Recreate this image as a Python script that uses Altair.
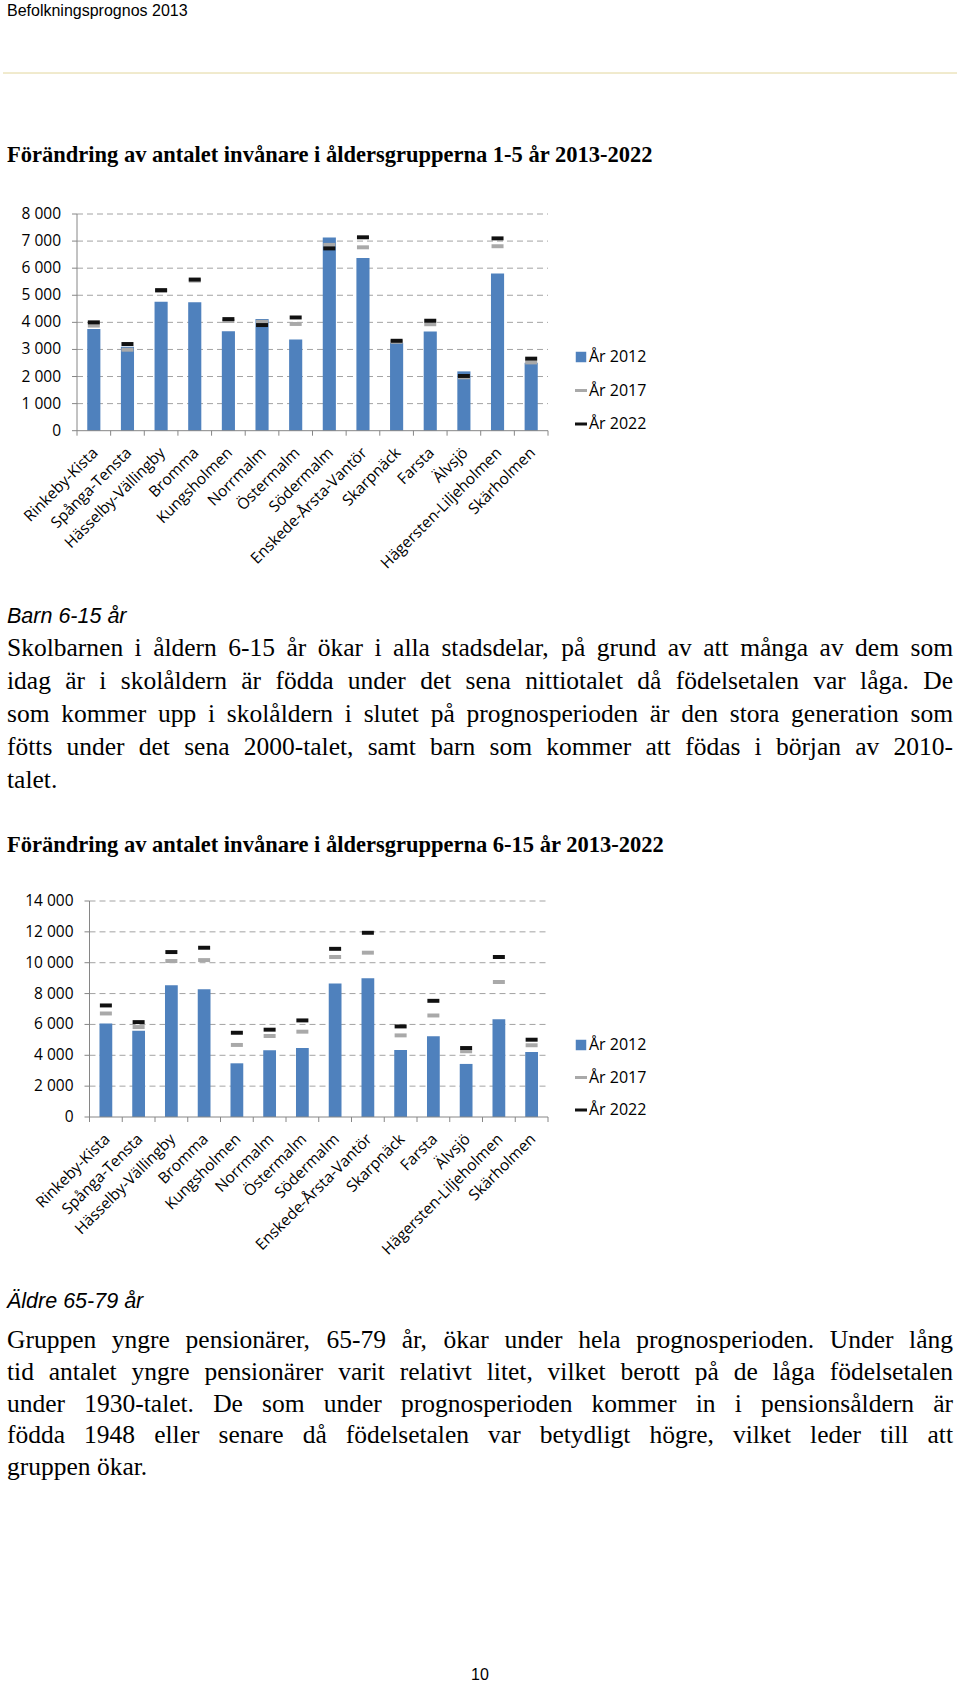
import altair as alt
import pandas as pd

# ---------------- data ----------------
districts = ["Rinkeby-Kista", "Spånga-Tensta", "Hässelby-Vällingby", "Bromma", "Kungsholmen",
             "Norrmalm", "Östermalm", "Södermalm", "Enskede-Årsta-Vantör", "Skarpnäck",
             "Farsta", "Älvsjö", "Hägersten-Liljeholmen", "Skärholmen"]

age1_5_2012 = [3750, 3100, 4760, 4740, 3670, 4120, 3370, 7130, 6380, 3250, 3660, 2190, 5800, 2510]
age1_5_2017 = [3880, 2990, 5160, 5540, 4050, 4020, 3940, 6860, 6770, 3280, 3930, 1970, 6810, 2520]
age1_5_2022 = [4000, 3200, 5190, 5580, 4120, 3900, 4180, 6730, 7140, 3320, 4060, 2020, 7100, 2660]

age6_15_2012 = [6060, 5590, 8540, 8280, 3480, 4320, 4470, 8650, 8990, 4340, 5230, 3440, 6340, 4220]
age6_15_2017 = [6710, 5830, 10110, 10170, 4670, 5250, 5530, 10370, 10650, 5290, 6580, 4260, 8750, 4650]
age6_15_2022 = [7230, 6150, 10690, 10970, 5460, 5660, 6260, 10900, 11940, 5870, 7530, 4470, 10370, 5010]

ticks_1_5 = [0, 1000, 2000, 3000, 4000, 5000, 6000, 7000, 8000]
tick_labels_1_5 = ["0", "1 000", "2 000", "3 000", "4 000", "5 000", "6 000", "7 000", "8 000"]
ticks_6_15 = [0, 2000, 4000, 6000, 8000, 10000, 12000, 14000]
tick_labels_6_15 = ["0", "2 000", "4 000", "6 000", "8 000", "10 000", "12 000", "14 000"]

legend_labels = ["År 2012", "År 2017", "År 2022"]

header_text = "Befolkningsprognos 2013"
title_1 = "Förändring av antalet invånare i åldersgrupperna 1-5 år 2013-2022"
title_2 = "Förändring av antalet invånare i åldersgrupperna 6-15 år 2013-2022"
heading_1 = "Barn 6-15 år"
para_1 = [
    "Skolbarnen i åldern 6-15 år ökar i alla stadsdelar, på grund av att många av dem som",
    "idag är i skolåldern är födda under det sena nittiotalet då födelsetalen var låga. De",
    "som kommer upp i skolåldern i slutet på prognosperioden är den stora generation som",
    "fötts under det sena 2000-talet, samt barn som kommer att födas i början av 2010-",
    "talet.",
]
heading_2 = "Äldre 65-79 år"
para_2 = [
    "Gruppen yngre pensionärer, 65-79 år, ökar under hela prognosperioden. Under lång",
    "tid antalet yngre pensionärer varit relativt litet, vilket berott på de låga födelsetalen",
    "under 1930-talet. De som under prognosperioden kommer in i pensionsåldern är",
    "födda 1948 eller senare då födelsetalen var betydligt högre, vilket leder till att",
    "gruppen ökar.",
]
page_number = "10"

# ---------------- styles ----------------
BLUE = "#4f81bd"
GREY17 = "#a9a9a9"
BLACK22 = "#111111"
AXIS = "#868686"
GRID = "#a3a3a3"
CHART_FONT = "Open Sans"
SERIF = "Liberation Serif"
SANS = "Liberation Sans"
DASH_PATH = "M-1,-0.33H1V0.33H-1Z"
LEG_DASH = "M-1,-0.25H1V0.25H-1Z"

W, H = 960, 1685


def panel(v12, v17, v22, tick_vals, tick_labels, x0, x1, ytop, ybot, leg_top, leg_bot):
    n = len(districts)
    ymax = tick_vals[-1]
    band = alt.Scale(domain=districts, range=[x0, x1], paddingInner=0.61, paddingOuter=0.305)
    ysc = alt.Scale(domain=[0, ymax], range=[ybot, ytop], nice=False, zero=True)
    X = alt.X("district:N", sort=districts, scale=band, axis=None)

    def Y(f):
        return alt.Y(f, scale=ysc, axis=None)

    df = pd.DataFrame({"district": districts, "y2012": v12, "y2017": v17, "y2022": v22})
    tdf = pd.DataFrame({"v": tick_vals, "label": tick_labels})
    layers = []
    # gridlines
    layers.append(alt.Chart(tdf).transform_filter("datum.v > 0").mark_rule(
        color=GRID, strokeDash=[6, 4], strokeWidth=1).encode(
        y=Y("v:Q"), x=alt.value(x0), x2=alt.value(x1)))
    # y axis line
    adf = pd.DataFrame({"lo": [0], "hi": [ymax]})
    layers.append(alt.Chart(adf).mark_rule(color=AXIS, strokeWidth=1).encode(
        y=Y("hi:Q"), y2="lo:Q", x=alt.value(x0)))
    # y ticks
    layers.append(alt.Chart(tdf).mark_rule(color=AXIS, strokeWidth=1).encode(
        y=Y("v:Q"), x=alt.value(x0 - 5), x2=alt.value(x0)))
    # y labels
    layers.append(alt.Chart(tdf).mark_text(
        align="right", baseline="middle", font=CHART_FONT, fontSize=15.5, color="#000000").encode(
        y=Y("v:Q"), x=alt.value(x0 - 16), text="label:N"))
    # bars
    layers.append(alt.Chart(df).mark_bar(color=BLUE).encode(x=X, y=Y("y2012:Q")))
    # x axis line
    layers.append(alt.Chart(tdf).transform_filter("datum.v == 0").mark_rule(
        color=AXIS, strokeWidth=1).encode(y=Y("v:Q"), x=alt.value(x0), x2=alt.value(x1)))
    # x ticks at band boundaries
    kdf = pd.DataFrame({"k": list(range(n + 1))})
    ksc = alt.Scale(domain=[0, n], range=[x0, x1])
    layers.append(alt.Chart(kdf).mark_rule(color=AXIS, strokeWidth=1).encode(
        x=alt.X("k:Q", scale=ksc, axis=None), y=alt.value(ybot), y2=alt.value(ybot + 5)))
    # markers
    layers.append(alt.Chart(df).mark_point(shape=DASH_PATH, filled=True, size=144, opacity=1,
                                           color=GREY17).encode(x=X, y=Y("y2017:Q")))
    layers.append(alt.Chart(df).mark_point(shape=DASH_PATH, filled=True, size=144, opacity=1,
                                           color=BLACK22).encode(x=X, y=Y("y2022:Q")))
    # category labels
    layers.append(alt.Chart(df).mark_text(
        align="right", baseline="middle", angle=315, font=CHART_FONT, fontSize=15.5,
        color="#000000", dx=2).encode(x=X, y=alt.value(ybot + 21), text="district:N"))
    # legend
    ldf = pd.DataFrame({"label": legend_labels})
    lsc = alt.Scale(domain=legend_labels, range=[leg_top, leg_bot], type="point", padding=0)
    LY = alt.Y("label:N", scale=lsc, axis=None)
    layers.append(alt.Chart(ldf).transform_filter(alt.datum.label == legend_labels[0]).mark_square(
        size=110, color=BLUE, opacity=1).encode(x=alt.value(581), y=LY))
    layers.append(alt.Chart(ldf).transform_filter(alt.datum.label == legend_labels[1]).mark_point(
        shape=LEG_DASH, filled=True, size=144, opacity=1, color=GREY17).encode(x=alt.value(581), y=LY))
    layers.append(alt.Chart(ldf).transform_filter(alt.datum.label == legend_labels[2]).mark_point(
        shape=LEG_DASH, filled=True, size=144, opacity=1, color=BLACK22).encode(x=alt.value(581), y=LY))
    layers.append(alt.Chart(ldf).mark_text(
        align="left", baseline="middle", font=CHART_FONT, fontSize=16, color="#000000").encode(
        x=alt.value(589), y=LY, text="label:N"))
    return layers


# ---------------- justified paragraphs ----------------
_lower = dict(zip("abcdefghijklmnopqrstuvwxyz",
                  [444, 500, 444, 500, 444, 333, 500, 500, 278, 278, 500, 278, 778, 500, 500, 500, 500,
                   333, 389, 278, 500, 500, 722, 500, 500, 444]))
_upper = dict(zip("ABCDEFGHIJKLMNOPQRSTUVWXYZ",
                  [722, 667, 667, 722, 611, 556, 722, 722, 333, 389, 722, 611, 889, 722, 722, 556, 722,
                   667, 556, 611, 722, 722, 944, 722, 722, 611]))
TIMES = {**_lower, **_upper}
TIMES.update({d: 500 for d in "0123456789"})
TIMES.update({" ": 250, ",": 250, ".": 250, "-": 333, "å": 444, "ä": 444, "ö": 500,
              "Å": 722, "Ä": 722, "Ö": 722})


def word_width(w, fs):
    return sum(TIMES.get(c, 500) for c in w) / 1000.0 * fs


def layout_paragraph(lines, fs, left, right, baselines):
    rows = []
    for i, (line, yb) in enumerate(zip(lines, baselines)):
        words = line.split(" ")
        widths = [word_width(w, fs) for w in words]
        last = i == len(lines) - 1
        if last or len(words) == 1:
            gap = 0.25 * fs
        else:
            gap = (right - left - sum(widths)) / (len(words) - 1)
        x = left
        for w, wd in zip(words, widths):
            rows.append({"w": w, "x": x, "y": yb})
            x += wd + gap
    return rows


BODY_FS = 25.5
p1_base = [656, 689, 722, 755, 788]
p2_base = [1348, 1380, 1411.5, 1443, 1475]
words = layout_paragraph(para_1, BODY_FS, 7, 953, p1_base) + layout_paragraph(para_2, BODY_FS, 7, 953, p2_base)
words_df = pd.DataFrame(words)

body = alt.Chart(words_df).mark_text(
    align="left", baseline="alphabetic", font=SERIF, fontSize=BODY_FS, color="#000000").encode(
    x=alt.X("x:Q", scale=None), y=alt.Y("y:Q", scale=None), text="w:N")


def single_text(txt, x, y, font, size, weight="normal", style="normal", align="left"):
    d = pd.DataFrame({"t": [txt]})
    return alt.Chart(d).mark_text(align=align, baseline="alphabetic", font=font, fontSize=size,
                                  fontWeight=weight, fontStyle=style, color="#000000").encode(
        x=alt.value(x), y=alt.value(y), text="t:N")


texts = [
    single_text(header_text, 7, 15.5, SANS, 16),
    single_text(title_1, 7, 162, SERIF, 22.5, weight="bold"),
    single_text(heading_1, 7, 623, SANS, 21.5, style="italic"),
    single_text(title_2, 7, 852, SERIF, 22.5, weight="bold"),
    single_text(heading_2, 7, 1308, SANS, 21.5, style="italic"),
    single_text(page_number, 480, 1680, SANS, 16, align="center"),
]

line_df = pd.DataFrame({"a": [0]})
header_rule = alt.Chart(line_df).mark_rule(color="#e2d69c", strokeWidth=1).encode(
    x=alt.value(3), x2=alt.value(957), y=alt.value(73))

layers = [header_rule, body] + texts
layers += panel(age1_5_2012, age1_5_2017, age1_5_2022, ticks_1_5, tick_labels_1_5,
                77, 548, 214, 430.7, 357, 424)
layers += panel(age6_15_2012, age6_15_2017, age6_15_2022, ticks_6_15, tick_labels_6_15,
                89.5, 548, 901, 1117, 1045, 1110)

chart = alt.layer(*layers).resolve_scale(x="independent", y="independent").properties(
    width=W, height=H, padding=0, autosize=alt.AutoSizeParams(type="none"),
    background="white").configure_view(strokeWidth=0)

chart.save("out.html", embed_options={"renderer": "svg", "actions": False})
